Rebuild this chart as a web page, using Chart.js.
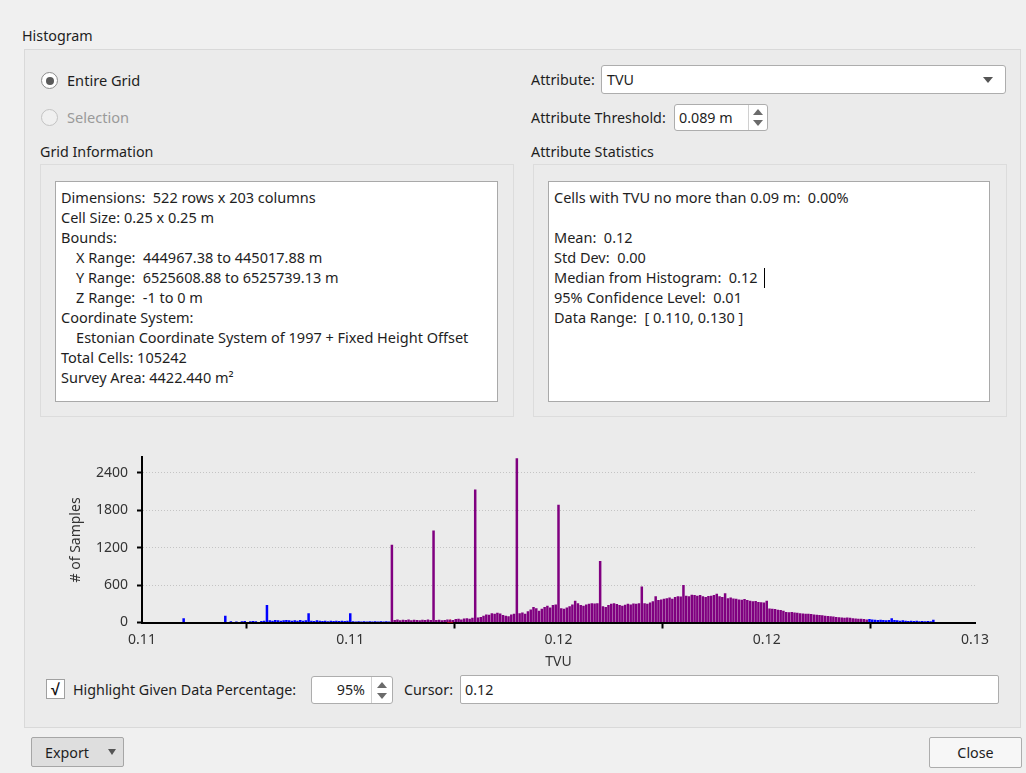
<!DOCTYPE html>
<html>
<head>
<meta charset="utf-8">
<script src="https://cdn.jsdelivr.net/npm/chart.js@4.4.0/dist/chart.umd.min.js"></script>
<style>
body { margin: 0; width: 1026px; height: 773px; background: #f0f0f0; font-family: "Noto Sans", sans-serif; font-size: 14.3px; color: #1e1e1e; position: relative; overflow: hidden; }
.a { position: absolute; white-space: pre; line-height: 18px; }
.box { position: absolute; box-sizing: border-box; }
.field { position: absolute; box-sizing: border-box; background: #fff; border: 1px solid #adadad; border-radius: 3px; }
.up, .dn { position: absolute; width: 0; height: 0; border-left: 5px solid transparent; border-right: 5px solid transparent; }
.up { border-bottom: 6px solid #6b6b6b; }
.dn { border-top: 6px solid #6b6b6b; }
.txt { position: absolute; box-sizing: border-box; background: #fff; border: 1px solid #a9a9a9; padding: 5px 5px; line-height: 20px; white-space: pre; font-size: 14.5px; }
</style>
</head>
<body>
<div class="a" style="left:22px;top:27px">Histogram</div>
<div class="box" style="left:24px;top:49px;width:997px;height:679px;border:1px solid #d9d9d9;background:#ebebeb"></div>

<div class="box" style="left:41px;top:72px;width:17px;height:17px;border:1px solid #8c8c8c;border-radius:50%;background:#fff"></div>
<div class="box" style="left:45.5px;top:76.5px;width:8px;height:8px;border-radius:50%;background:#5a5a5a"></div>
<div class="a" style="left:67px;top:71px;font-size:14.6px">Entire Grid</div>
<div class="box" style="left:41px;top:109px;width:17px;height:17px;border:1px solid #c3c3c3;border-radius:50%;background:#f0f0f0"></div>
<div class="a" style="left:67px;top:108px;font-size:14.6px;color:#9a9a9a">Selection</div>

<div class="a" style="left:40px;top:143px">Grid Information</div>
<div class="box" style="left:40px;top:164px;width:474px;height:253px;border:1px solid #dcdcdc;background:#ebebeb"></div>
<div class="txt" style="left:55px;top:181px;width:443px;height:221px">Dimensions:  522 rows x 203 columns
Cell Size: 0.25 x 0.25 m
Bounds:
    X Range:  444967.38 to 445017.88 m
    Y Range:  6525608.88 to 6525739.13 m
    Z Range:  -1 to 0 m
Coordinate System:
    Estonian Coordinate System of 1997 + Fixed Height Offset
Total Cells: 105242
Survey Area: 4422.440 m²</div>

<div class="a" style="left:531px;top:71px">Attribute:</div>
<div class="field" style="left:601px;top:65px;width:405px;height:29px"></div>
<div class="a" style="left:607px;top:71px">TVU</div>
<div class="dn" style="left:983px;top:77px;border-top-color:#555"></div>

<div class="a" style="left:531px;top:109px">Attribute Threshold:</div>
<div class="field" style="left:674px;top:104px;width:94px;height:27px"></div>
<div class="a" style="left:679px;top:109px">0.089 m</div>
<div class="box" style="left:748px;top:105px;width:1px;height:25px;background:#d0d0d0"></div>
<div class="up" style="left:753px;top:109px"></div>
<div class="dn" style="left:753px;top:120px"></div>

<div class="a" style="left:531px;top:143px">Attribute Statistics</div>
<div class="box" style="left:533px;top:164px;width:474px;height:253px;border:1px solid #dcdcdc;background:#ebebeb"></div>
<div class="txt" style="left:548px;top:181px;width:442px;height:221px">Cells with TVU no more than 0.09 m:  0.00%

Mean:  0.12
Std Dev:  0.00
Median from Histogram:  0.12
95% Confidence Level:  0.01
Data Range:  [ 0.110, 0.130 ]</div>
<div class="box" style="left:764px;top:268px;width:1px;height:20px;background:#000"></div>

<div class="box" style="left:40px;top:440px;width:980px;height:235px"><canvas id="histograma"></canvas></div>

<div class="box" style="left:46px;top:679px;width:19px;height:20px;border:1px solid #a0a0a0;background:#fff;font-size:16px;line-height:18px;text-align:center;font-weight:bold;color:#111">√</div>
<div class="a" style="left:73px;top:681px">Highlight Given Data Percentage:</div>
<div class="field" style="left:311px;top:676px;width:82px;height:28px"></div>
<div class="a" style="left:318px;top:681px;width:47px;text-align:right">95%</div>
<div class="box" style="left:371px;top:677px;width:1px;height:26px;background:#d0d0d0"></div>
<div class="up" style="left:377px;top:682px"></div>
<div class="dn" style="left:377px;top:693px"></div>
<div class="a" style="left:404px;top:681px">Cursor:</div>
<div class="field" style="left:460px;top:675px;width:539px;height:29px;border-radius:2px"></div>
<div class="a" style="left:465px;top:681px">0.12</div>

<div class="box" style="left:31px;top:737px;width:93px;height:30px;border:1px solid #a6a6a6;border-radius:2px;background:#dedede"></div>
<div class="a" style="left:45px;top:744px">Export</div>
<div class="dn" style="left:108px;top:749px;border-top-color:#555;border-left-width:4px;border-right-width:4px"></div>
<div class="box" style="left:929px;top:737px;width:93px;height:31px;border:1px solid #adadad;border-radius:2px;background:#f7f7f7"></div>
<div class="a" style="left:929px;top:744px;width:93px;text-align:center">Close</div>

<script>
// bins of 1/15 of 0.001, each row starts at a 0.001 mark
const binStart = 0.110;
const binWidth = 0.001 / 15;
const counts = [
    0, 0, 0, 0, 0, 0, 0, 0, 0, 0, 0, 0, 0, 0, 0,
    70, 0, 0, 0, 0, 0, 0, 0, 0, 0, 0, 0, 0, 0, 0,
    110, 0, 20, 0, 15, 0, 20, 25, 0, 20, 25, 20, 0, 25, 30,
    280, 35, 30, 40, 35, 30, 35, 40, 35, 30, 35, 30, 40, 30, 35,
    150, 30, 25, 35, 30, 25, 30, 20, 30, 25, 30, 25, 30, 25, 30,
    150, 20, 15, 20, 15, 20, 15, 20, 15, 20, 15, 20, 15, 20, 15,
    1245, 40, 50, 35, 45, 40, 50, 35, 45, 40, 35, 45, 40, 50, 40,
    1475, 40, 45, 35, 40, 50, 45, 40, 55, 60, 50, 65, 70, 60, 75,
    2130, 80, 90, 110, 130, 125, 150, 140, 155, 145, 120, 110, 100, 130, 140,
    2630, 150, 160, 140, 180, 210, 250, 230, 190, 220, 250, 270, 240, 280, 290,
    1885, 230, 220, 240, 260, 290, 350, 310, 280, 270, 290, 300, 310, 305, 310,
    985, 260, 250, 280, 300, 310, 295, 280, 270, 285, 300, 290, 305, 300, 310,
    575, 310, 300, 320, 340, 420, 360, 370, 380, 390, 400, 380, 410, 420, 415,
    600, 430, 420, 445, 440, 430, 440, 420, 410, 425, 430, 440, 460, 420, 410,
    470, 390, 400, 385, 380, 370, 365, 375, 360, 350, 340, 345, 330, 325, 320,
    350, 225, 220, 215, 205, 200, 190, 170, 165, 170, 160, 155, 150, 145, 140,
    140, 135, 130, 125, 120, 115, 110, 105, 100, 95, 90, 85, 80, 75, 80,
    75, 70, 65, 60, 60, 55, 50, 55, 50, 45, 40, 45, 40, 35, 40,
    70, 40, 35, 30, 35, 30, 25, 30, 25, 30, 20, 25, 20, 25, 20,
    45, 0, 0, 0, 0, 0, 0, 0, 0, 0, 0, 0, 0, 0, 0,
    0
];
const highlightRange = [0.116, 0.1274];
const cursorMark = [0.1174];
const xTickValues = [0.110, 0.115, 0.120, 0.125, 0.130];
const xTickLabels = ['0.11', '0.11', '0.12', '0.12', '0.13'];
const yTickValues = [0, 600, 1200, 1800, 2400];
const yMax = 2645;

const pontos = counts.map(function (c, i) { return { x: binStart + i * binWidth, y: c }; });
const cores = pontos.map(function (p) {
    return (p.x >= highlightRange[0] - 1e-6 && p.x <= highlightRange[1]) ? '#800080' : '#0000ff';
});

const fonteEixo = { family: 'Noto Sans', size: 14 };

const config = {
    type: 'bar',
    data: {
        datasets: [{
            label: 'TVU',
            data: pontos,
            backgroundColor: cores,
            borderWidth: 0,
            barPercentage: 0.9,
            categoryPercentage: 1
        }, {
            type: 'scatter',
            label: 'cursor',
            data: cursorMark.map(function (v) { return { x: v, y: 0 }; }),
            pointStyle: 'cross',
            pointRadius: 3,
            borderColor: '#ff0000',
            borderWidth: 1.5
        }]
    },
    options: {
        responsive: true,
        maintainAspectRatio: false,
        animation: false,
        layout: { padding: { top: 17, right: 45, left: 0, bottom: 0 } },
        plugins: { legend: { display: false }, tooltip: { enabled: false } },
        scales: {
            x: {
                type: 'linear',
                min: xTickValues[0],
                max: xTickValues[xTickValues.length - 1],
                offset: false,
                afterBuildTicks: function (eixo) { eixo.ticks = xTickValues.map(function (v) { return { value: v }; }); },
                afterFit: function (eixo) { eixo.height = 52.5; },
                ticks: {
                    autoSkip: false, maxRotation: 0, padding: 3,
                    color: '#333', font: fonteEixo,
                    callback: function (v, i) { return xTickLabels[i]; }
                },
                grid: { color: 'rgba(0,0,0,0)', tickColor: '#000', tickWidth: 2, tickLength: 6, drawOnChartArea: false },
                border: { color: '#000', width: 2 },
                title: { display: true, text: 'TVU', color: '#333', font: fonteEixo, padding: { top: 0, bottom: 5 } }
            },
            y: {
                min: 0,
                max: yMax,
                afterBuildTicks: function (eixo) { eixo.ticks = yTickValues.map(function (v) { return { value: v }; }); },
                afterFit: function (eixo) { eixo.width = 102; },
                ticks: {
                    padding: 9, color: '#333', font: fonteEixo,
                    callback: function (v) { return String(v); }
                },
                grid: {
                    color: function (ctx) { return ctx.index === 0 ? 'rgba(0,0,0,0)' : '#c4c4c4'; },
                    lineWidth: 1, tickColor: '#000', tickWidth: 2, tickLength: 5
                },
                border: { color: '#000', width: 2, dash: [1, 2] },
                title: { display: true, text: '# of Samples', color: '#333', font: fonteEixo, padding: { top: 28, bottom: 0 } }
            }
        }
    }
};

const ctx_hist = document.getElementById('histograma').getContext('2d');
let GraficoHist = new Chart(ctx_hist, config);
</script>
</body>
</html>
